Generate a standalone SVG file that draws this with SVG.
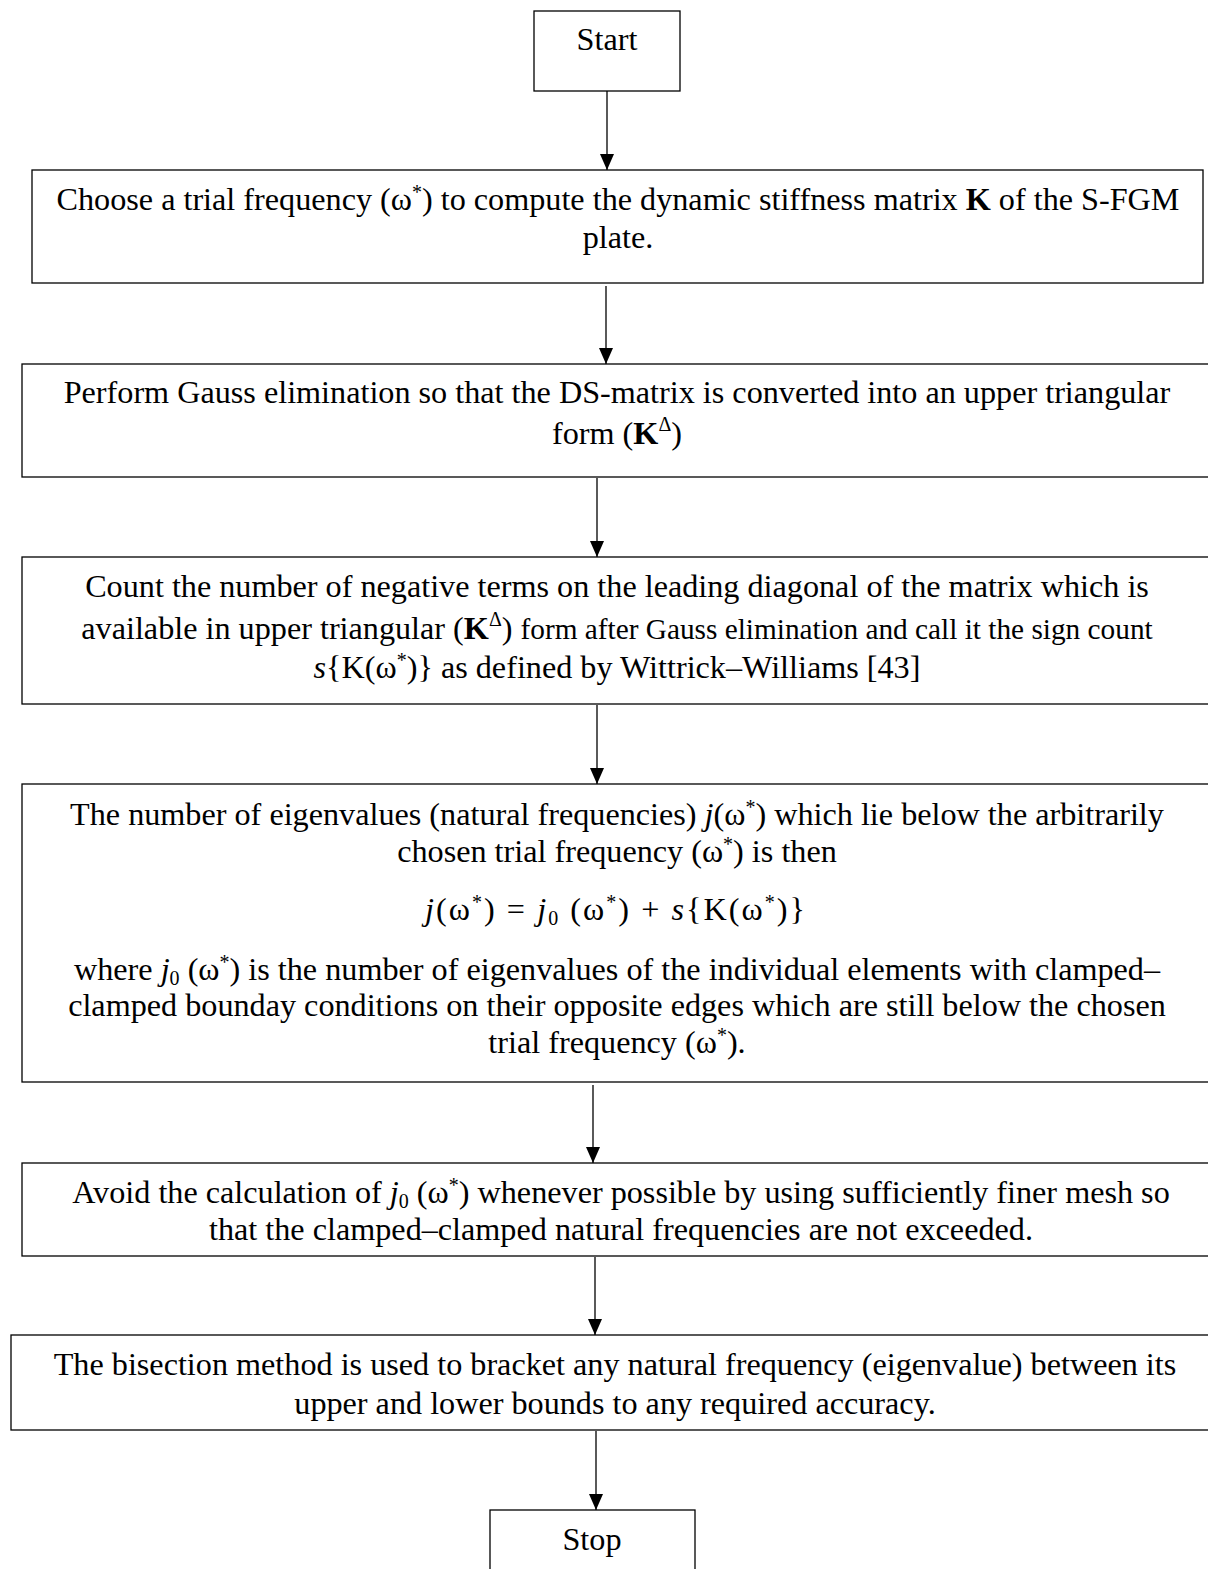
<svg xmlns="http://www.w3.org/2000/svg" width="1208" height="1569" viewBox="0 0 1208 1569">
<defs>
<marker id="ah" viewBox="0 0 16 14" refX="16" refY="7" markerWidth="16" markerHeight="14" markerUnits="userSpaceOnUse" orient="auto">
<path d="M0,0 L16,7 L0,14 Z" fill="#000"/>
</marker>
<style>
.box{fill:#fff;stroke:#000;stroke-width:1.3}
.t{font-family:"Liberation Serif","Times New Roman",serif;font-size:32.2px;fill:#000;text-anchor:middle}
.s{font-size:29.3px}
.sup{font-size:20px}
.i{font-style:italic}
.b{font-weight:bold}
.c{stroke:#000;stroke-width:1.3;fill:none}
</style>
</defs>
<rect width="1208" height="1569" fill="#fff"/>
<g id="connectors">
<line class="c" x1="607" y1="91" x2="607" y2="170" marker-end="url(#ah)"/>
<line class="c" x1="606" y1="286" x2="606" y2="364" marker-end="url(#ah)"/>
<line class="c" x1="597" y1="478" x2="597" y2="557" marker-end="url(#ah)"/>
<line class="c" x1="597" y1="705" x2="597" y2="784" marker-end="url(#ah)"/>
<line class="c" x1="593" y1="1085" x2="593" y2="1163" marker-end="url(#ah)"/>
<line class="c" x1="595" y1="1257" x2="595" y2="1335" marker-end="url(#ah)"/>
<line class="c" x1="596" y1="1431" x2="596" y2="1510" marker-end="url(#ah)"/>
</g>
<g id="start">
<rect class="box" x="534" y="11" width="146" height="80"/>
<text class="t" x="607" y="50">Start</text>
</g>
<g id="n1">
<rect class="box" x="32" y="170" width="1171" height="113"/>
<text class="t" x="618" y="210">Choose a trial frequency (ω<tspan class="sup" dy="-11">*</tspan><tspan dy="11">)  to compute the dynamic stiffness matrix </tspan><tspan class="b">K</tspan> of the S-FGM</text>
<text class="t" x="618" y="248">plate.</text>
</g>
<g id="n2">
<rect class="box" x="22" y="364" width="1190" height="113"/>
<text class="t" x="617" y="403">Perform Gauss elimination so that the DS-matrix is converted into an upper triangular</text>
<text class="t" x="617" y="444">form (<tspan class="b">K</tspan><tspan class="sup" dy="-13">Δ</tspan><tspan dy="13">)</tspan></text>
</g>
<g id="n3">
<rect class="box" x="22" y="557" width="1190" height="147"/>
<text class="t" x="617" y="597">Count the number of negative terms on the leading diagonal of the matrix which is</text>
<text class="t" x="617" y="639">available in upper triangular (<tspan class="b">K</tspan><tspan class="sup" dy="-13">Δ</tspan><tspan dy="13">) </tspan><tspan class="s">form after Gauss elimination and call it the sign count</tspan></text>
<text class="t" x="617" y="678"><tspan class="i">s</tspan>{K(ω<tspan class="sup" dy="-11">*</tspan><tspan dy="11">)} as defined by Wittrick–Williams [43]</tspan></text>
</g>
<g id="n4">
<rect class="box" x="22" y="784" width="1190" height="298"/>
<text class="t" x="617" y="825">The number of eigenvalues (natural frequencies) <tspan class="i">j</tspan>(ω<tspan class="sup" dy="-11">*</tspan><tspan dy="11">) which lie below the arbitrarily</tspan></text>
<text class="t" x="617" y="862">chosen trial frequency (ω<tspan class="sup" dy="-11">*</tspan><tspan dy="11">) is then</tspan></text>
<text class="t" x="615" y="920" textLength="380" lengthAdjust="spacing"><tspan class="i">j</tspan>(ω<tspan class="sup" dy="-11">*</tspan><tspan dy="11">) = </tspan><tspan class="i">j</tspan><tspan class="sup" dy="5">0</tspan><tspan dy="-5"> (ω</tspan><tspan class="sup" dy="-11">*</tspan><tspan dy="11">)  + </tspan><tspan class="i">s</tspan>{K(ω<tspan class="sup" dy="-11">*</tspan><tspan dy="11">)}</tspan></text>
<text class="t" x="617" y="980">where <tspan class="i">j</tspan><tspan class="sup" dy="5">0</tspan><tspan dy="-5"> (ω</tspan><tspan class="sup" dy="-11">*</tspan><tspan dy="11">) is the number of eigenvalues of the individual elements with clamped–</tspan></text>
<text class="t" x="617" y="1016">clamped bounday conditions on their opposite edges which are still  below the chosen</text>
<text class="t" x="617" y="1053">trial frequency (ω<tspan class="sup" dy="-11">*</tspan><tspan dy="11">).</tspan></text>
</g>
<g id="n5">
<rect class="box" x="22" y="1163" width="1190" height="93"/>
<text class="t" x="621" y="1203">Avoid the calculation of  <tspan class="i">j</tspan><tspan class="sup" dy="5">0</tspan><tspan dy="-5"> (ω</tspan><tspan class="sup" dy="-11">*</tspan><tspan dy="11">) whenever possible by using sufficiently finer mesh so</tspan></text>
<text class="t" x="621" y="1240">that the clamped–clamped natural frequencies are not exceeded.</text>
</g>
<g id="n6">
<rect class="box" x="11" y="1335" width="1201" height="95"/>
<text class="t" x="615" y="1375">The bisection  method is used to bracket any natural frequency (eigenvalue) between its</text>
<text class="t" x="615" y="1414">upper and lower bounds to any required accuracy.</text>
</g>
<g id="stop">
<rect class="box" x="490" y="1510" width="205" height="70"/>
<text class="t" x="592" y="1550">Stop</text>
</g>
</svg>
